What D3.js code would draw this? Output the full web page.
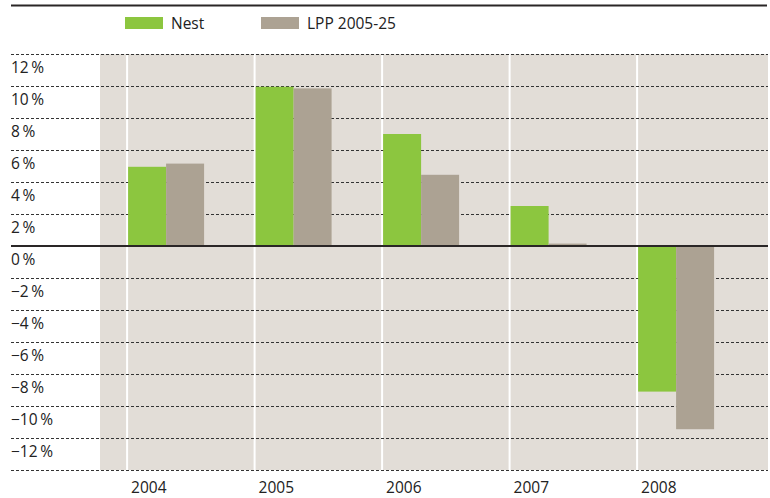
<!DOCTYPE html>
<html><head><meta charset="utf-8">
<script src="https://cdn.jsdelivr.net/npm/d3@7"></script>
<style>body{margin:0;background:#fff}svg{display:block}text{font-family:"Open Sans",sans-serif;fill:#222}</style>
</head><body><svg id="c" width="770" height="498"></svg>
<script>
const years = ["2004","2005","2006","2007","2008"];
const seriesNames = ["Nest","LPP 2005-25"];
const nest = [4.95, 9.95, 7.0, 2.5, -9.1];
const lpp = [5.15, 9.85, 4.45, 0.15, -11.45];
const tickValues = [12,10,8,6,4,2,0,-2,-4,-6,-8,-10,-12,-14];
const colors = ["#8cc63f","#aca293"];

const svg = d3.select("#c");
const left = 11, right = 768, plotL = 100;
const y = d3.scaleLinear().domain([-14,12]).range([470,54]);
const x = d3.scaleBand().domain(years).range([127.1,764.6]);
const bw = 38;

// top rule
svg.append("line").attr("x1",left).attr("x2",767).attr("y1",5.5).attr("y2",5.5).attr("stroke","#2a2626").attr("stroke-width",2);

// legend
const lg = svg.append("g");
seriesNames.forEach((n,i)=>{
  const lx = [125,261][i];
  lg.append("rect").attr("x",lx).attr("y",17).attr("width",38).attr("height",12).attr("fill",colors[i]);
  lg.append("text").attr("x",lx+46).attr("y",29).attr("font-size",15.5).text(n);
});

// plot background
svg.append("rect").attr("x",plotL).attr("y",y(12)).attr("width",right-plotL).attr("height",y(-14)-y(12)).attr("fill","#e2ddd7");
// white separators
svg.selectAll(".sep").data(years).join("line").attr("class","sep")
  .attr("x1",d=>x(d)).attr("x2",d=>x(d)).attr("y1",y(12)).attr("y2",y(-14))
  .attr("stroke","#fff").attr("stroke-width",2);

// gridlines
svg.selectAll(".grid").data(tickValues.filter(v=>v!==0)).join("line").attr("class","grid")
  .attr("x1",left).attr("x2",right).attr("y1",d=>y(d)+0.5).attr("y2",d=>y(d)+0.5)
  .attr("stroke","#333").attr("stroke-width",1).attr("stroke-dasharray","3,2");

// bars
const data = years.map((yr,i)=>({yr, vals:[nest[i],lpp[i]]}));
const g = svg.selectAll(".grp").data(data).join("g").attr("class","grp");
g.selectAll("rect").data(d=>d.vals.map((v,j)=>({yr:d.yr,v,j}))).join("rect")
  .attr("x",d=>x(d.yr)+1+d.j*bw).attr("width",bw)
  .attr("y",d=>y(Math.max(0,d.v))).attr("height",d=>Math.abs(y(d.v)-y(0)))
  .attr("fill",d=>colors[d.j]);

// zero line
svg.append("line").attr("x1",left).attr("x2",right).attr("y1",y(0)).attr("y2",y(0)).attr("stroke","#2a2626").attr("stroke-width",2);

// y labels
svg.selectAll(".yl").data(tickValues.filter(v=>v>-14)).join("text").attr("class","yl")
  .attr("x",left).attr("y",d=>y(d)+19).attr("font-size",15.5)
  .text(d=>(d<0?"\u2212":"")+Math.abs(d)+"\u2009%");

// x labels
svg.selectAll(".xl").data(years).join("text").attr("class","xl")
  .attr("x",d=>x(d)+4).attr("y",493).attr("font-size",15.5).text(d=>d);
</script></body></html>
